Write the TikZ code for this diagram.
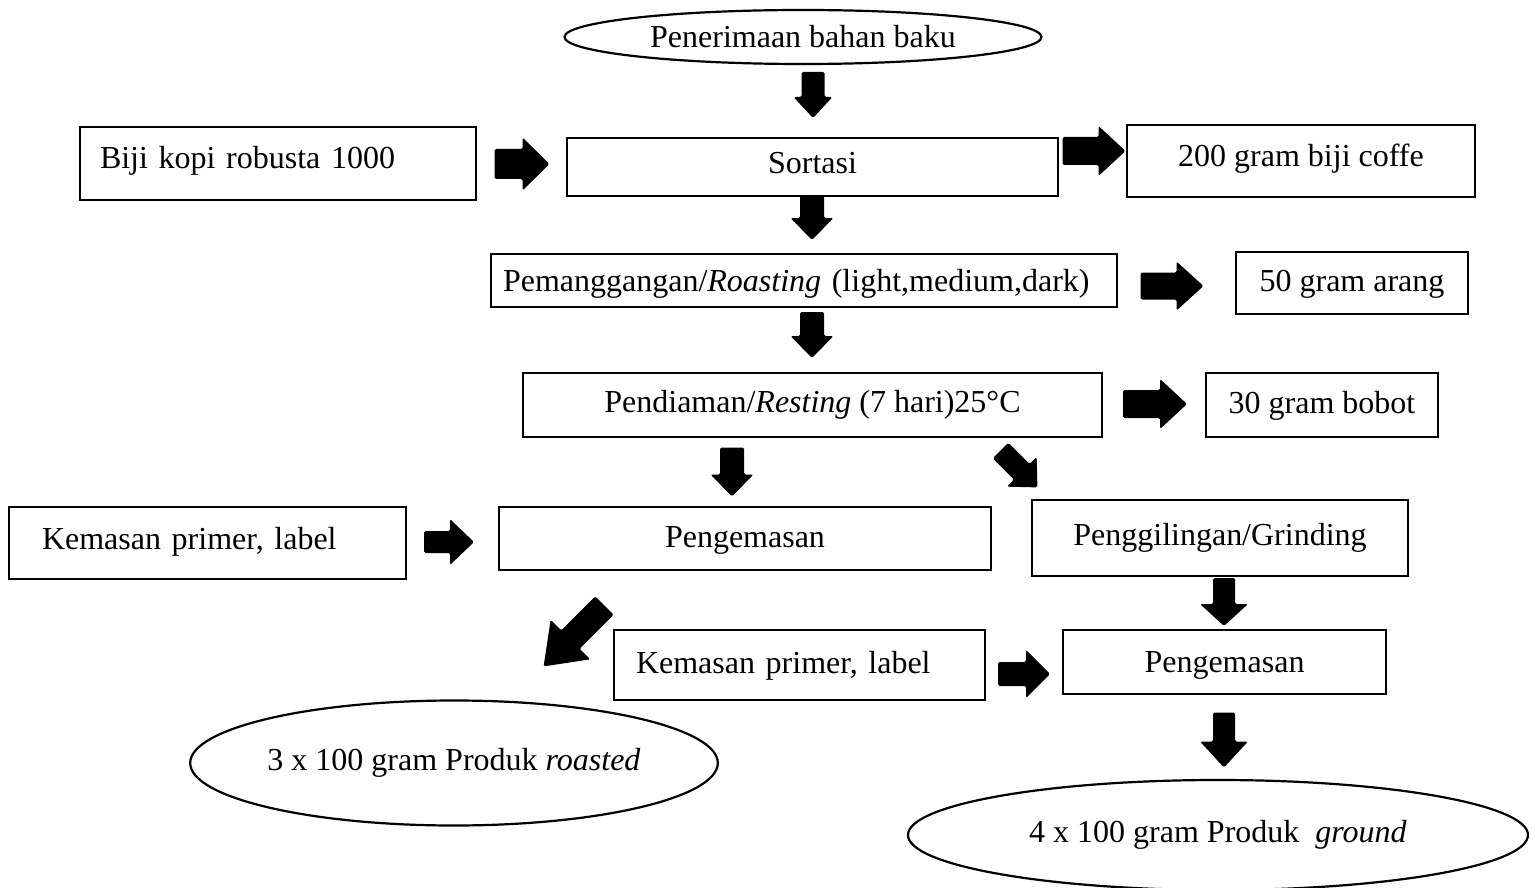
\documentclass[tikz,border=0pt]{standalone}
\usepackage{fontspec}
\setmainfont{Liberation Serif}
\usetikzlibrary{shapes.geometric}
\newcommand\BArrow[7]{%
  \fill[rounded corners=1.5pt, shift={(#1,#2)}, rotate=#3]
    (-#4/2,-#5/2) -- (#4/2-#7,-#5/2) -- (#4/2-#7,-#6/2) -- (#4/2,0) --
    (#4/2-#7,#6/2) -- (#4/2-#7,#5/2) -- (-#4/2,#5/2) -- cycle;}
\tikzset{
  box/.style={draw, line width=2.2pt, inner sep=0pt, align=center,
    text height=23pt, text depth=7pt,
    font=\fontsize{32}{38}\selectfont},
  lbox/.style={box, align=left},
  oval/.style={ellipse, draw, line width=2.2pt, inner sep=0pt,
    font=\fontsize{32}{38}\selectfont},
}
\begin{document}
\begin{tikzpicture}[x=1pt,y=-1pt]
\useasboundingbox (0,0) rectangle (1535,888);
% ovals
\node[oval, minimum width=477, minimum height=54] (start) at (803,37) {Penerimaan bahan baku};
\node[oval, minimum width=518, minimum height=125] (roasted) at (454,763) {3 x 100 gram Produk \textit{roasted}};
\node[oval, minimum width=620, minimum height=110] (ground) at (1218,835) {4 x 100 gram Produk\ \ \textit{ground}};
% boxes
\node[lbox, minimum height=73, inner xsep=20pt, text width=356, text depth=14pt] (biji) at (278,163.5) {Biji kopi robusta 1000};
\node[box, minimum width=491, minimum height=58, text depth=9pt] (sortasi) at (812.5,167) {Sortasi};
\node[box, minimum width=348, minimum height=72, text depth=12pt] (coffe) at (1301,161) {200 gram biji coffe};
\node[lbox, minimum height=53, inner xsep=12pt, text width=602, text depth=2pt] (roast) at (804,280.5) {Pemanggangan/\textit{Roasting} (light,medium,dark)};
\node[box, minimum width=232, minimum height=62] (arang) at (1352,283) {50 gram arang};
\node[box, minimum width=579, minimum height=64, text depth=8pt] (resting) at (812.5,405) {Pendiaman/\textit{Resting} (7 hari)25°C};
\node[box, minimum width=232, minimum height=64] (bobot) at (1322,405) {30 gram bobot};
\node[lbox, minimum height=72, inner xsep=33pt, text width=331, text depth=11pt] (kem1) at (207.5,543) {Kemasan primer, label};
\node[box, minimum width=492, minimum height=63, text depth=5pt] (peng1) at (745,538.5) {Pengemasan};
\node[box, minimum width=376, minimum height=76, text depth=9pt] (grind) at (1220,538) {Penggilingan/Grinding};
\node[lbox, minimum height=70, inner xsep=22pt, text width=327] (kem2) at (799.5,665) {Kemasan primer, label};
\node[box, minimum width=323, minimum height=64, text depth=3pt] (peng2) at (1224.5,662) {Pengemasan};
% block arrows
\BArrow{813}{95}{-90}{46}{23}{39}{21}
\BArrow{522}{164}{0}{55}{30}{53}{27}
\BArrow{1094}{151}{0}{63}{28}{50}{27}
\BArrow{812}{218}{-90}{44}{24}{43}{22}
\BArrow{1172}{286}{0}{63}{27}{49}{27}
\BArrow{812}{335}{-90}{46}{24}{43}{22}
\BArrow{1155}{404}{0}{64}{28}{50}{27}
\BArrow{732}{472}{-90}{49}{24}{43}{22}
\BArrow{1019}{469}{-45}{52}{22}{42}{22}
\BArrow{449}{542}{0}{50}{22}{46}{24}
\BArrow{1224}{602}{-90}{48}{22}{48}{22}
\BArrow{574}{636}{-135}{86}{26}{56}{38}
\BArrow{1024}{674}{0}{52}{24}{48}{24}
\BArrow{1224}{740}{-90}{55}{22}{48}{26}
\end{tikzpicture}
\end{document}
